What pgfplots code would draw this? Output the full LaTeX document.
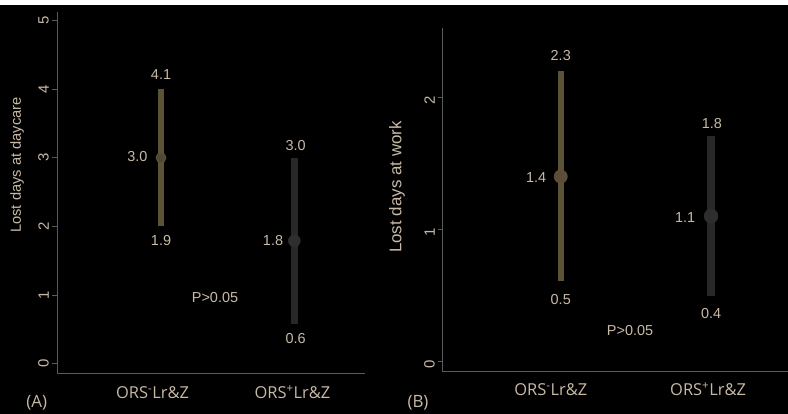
\documentclass[border=0pt]{standalone}
\usepackage{pgfplots}
\pgfplotsset{compat=1.18}
\usepackage{fontspec}
\setmainfont{Liberation Sans}
\newfontfamily\opensans{Open Sans}
\definecolor{txt}{HTML}{C8B9A6}
\definecolor{axgray}{HTML}{5A5A5A}
\definecolor{olivebar}{HTML}{5C5237}
\definecolor{olivedot}{HTML}{4E4838}
\definecolor{olivedotB}{HTML}{5C4C38}
\definecolor{darkbar}{HTML}{282828}
\definecolor{darkdot}{HTML}{2E2E2E}
\newcommand{\numfont}{\fontsize{14.5}{16}\selectfont}
\tikzset{lbl/.style={text=txt, font=\numfont, inner sep=0pt}}
\begin{document}
\begin{tikzpicture}
\useasboundingbox (0bp,0bp) rectangle (788bp,414bp);
\fill[black] (0bp,0bp) rectangle (788bp,409bp);
\pgfplotsset{
  panel/.style={
    scale only axis,
    axis x line*=bottom, axis y line*=left,
    axis line style={-, draw=axgray, line width=0.8bp},
    tick align=outside,
    major tick length=5bp,
    ytick style={draw=axgray, line width=0.8bp},
    xtick style={draw=none},
    ticklabel style={text=txt},
    /pgf/number format/assume math mode=true,
    yticklabel style={rotate=90, anchor=south, font=\fontsize{15}{17}\selectfont},
    xticklabel style={font=\opensans\fontsize{16.5}{19}\selectfont, anchor=base, yshift=-20.5bp},
    ylabel style={text=txt, anchor=center},
    clip=false,
  },
}
% ---------------- Panel A ----------------
\begin{axis}[panel,
  at={(57.3bp,41bp)}, anchor=south west,
  width=307.7bp, height=361bp,
  xmin=-0.778, xmax=1.53, ymin=-0.137, ymax=5.125,
  ytick={0,1,2,3,4,5},
  xtick={-0.064,0.986},
  xticklabels={ORS\textsuperscript{-}Lr\&Z, ORS\textsuperscript{+}Lr\&Z},
  ylabel={Lost days at daycare},
  ylabel style={at={(axis description cs:-0.131,0.576)}, font=\fontsize{14.7}{17}\selectfont},
]
\addplot[draw=olivebar, line width=5.5bp] coordinates {(0,2.0) (0,4.0)};
\addplot[only marks, mark=*, mark size=5bp, mark options={fill=olivedot, draw=olivebar, line width=0.8bp}] coordinates {(0,3.0)};
\addplot[draw=darkbar, line width=7.3bp] coordinates {(1,0.58) (1,3.0)};
\addplot[only marks, mark=*, mark size=6bp, mark options={fill=darkdot, draw=darkdot}] coordinates {(1,1.79)};
\node[lbl] at (axis cs:0.0,4.21) {4.1};
\node[lbl] at (axis cs:0.0,1.79) {1.9};
\node[lbl] at (axis cs:-0.178,3.02) {3.0};
\node[lbl] at (axis cs:1.01,3.18) {3.0};
\node[lbl] at (axis cs:0.84,1.79) {1.8};
\node[lbl] at (axis cs:1.01,0.36) {0.6};
\node[lbl] at (axis cs:0.405,0.956) {P>0.05};
\end{axis}
% ---------------- Panel B ----------------
\begin{axis}[panel,
  at={(442.3bp,43bp)}, anchor=south west,
  width=345.7bp, height=343.3bp,
  xmin=-0.788, xmax=1.512, ymin=-0.076, ymax=2.53,
  ytick={0,1,2},
  major tick length=4bp,
  yticklabel style={xshift=-3bp},
  xtick={-0.066,0.98},
  xticklabels={ORS\textsuperscript{-}Lr\&Z, ORS\textsuperscript{+}Lr\&Z},
  ylabel={Lost days at work},
  ylabel style={at={(axis description cs:-0.131,0.536)}, font=\fontsize{17}{19}\selectfont},
]
\addplot[draw=olivebar, line width=6bp] coordinates {(0,0.61) (0,2.20)};
\addplot[only marks, mark=*, mark size=6.5bp, mark options={fill=olivedotB, draw=olivebar, line width=0.8bp}] coordinates {(0,1.40)};
\addplot[draw=darkbar, line width=7.3bp] coordinates {(1,0.49) (1,1.71)};
\addplot[only marks, mark=*, mark size=7bp, mark options={fill=darkdot, draw=darkdot}] coordinates {(1,1.10)};
\node[lbl] at (axis cs:0.0,2.32) {2.3};
\node[lbl] at (axis cs:0.0,0.47) {0.5};
\node[lbl] at (axis cs:-0.164,1.39) {1.4};
\node[lbl] at (axis cs:1.005,1.80) {1.8};
\node[lbl] at (axis cs:0.827,1.09) {1.1};
\node[lbl] at (axis cs:1.0,0.364) {0.4};
\node[lbl] at (axis cs:0.461,0.235) {P>0.05};
\end{axis}
\node[text=txt, font=\opensans\fontsize{17}{20}\selectfont] at (36.7bp,11bp) {(A)};
\node[text=txt, font=\opensans\fontsize{17}{20}\selectfont] at (418bp,11bp) {(B)};
\end{tikzpicture}
\end{document}
